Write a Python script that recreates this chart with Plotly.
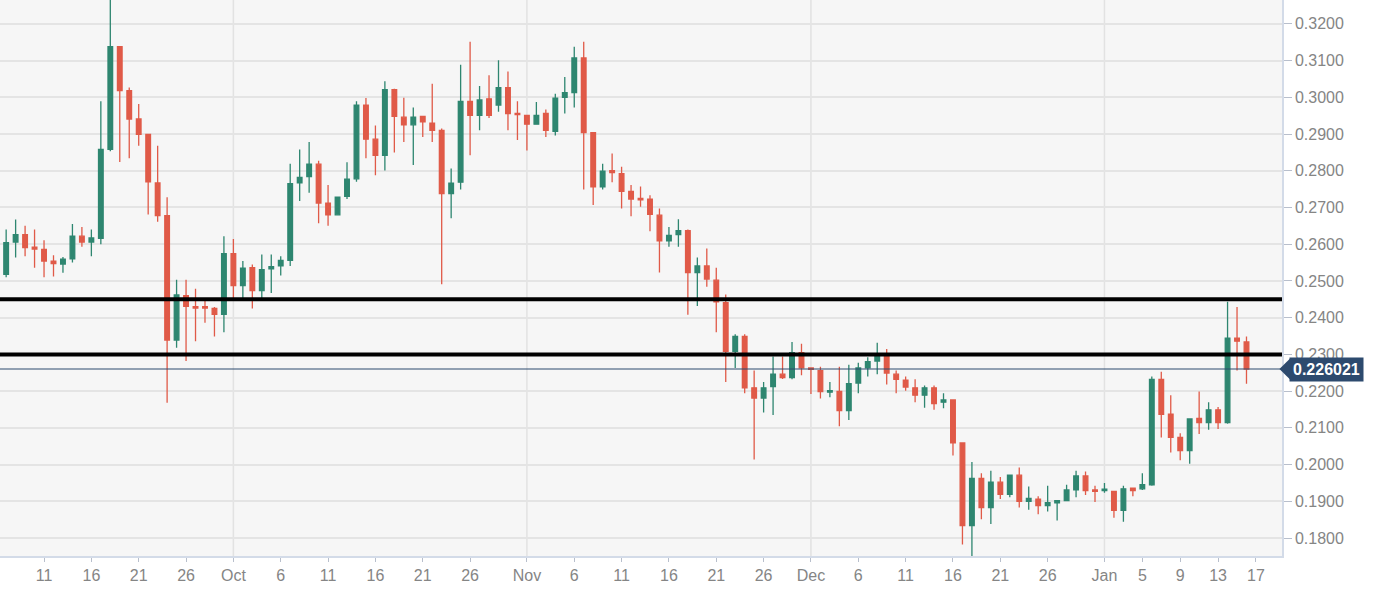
import pandas as pd
import plotly.graph_objects as go

# daily candles, 2019-09-06 .. 2020-01-16
dates = pd.date_range('2019-09-06', '2020-01-16', freq='D')

opens = [
    # Sep
    0.2567, 0.2518, 0.2606, 0.2626, 0.2592, 0.2586, 0.2554, 0.2546, 0.2560, 0.2622,
    0.2606, 0.2616, 0.2858, 0.3138, 0.3018, 0.2941, 0.2899, 0.2767, 0.2678, 0.2339,
    0.2460, 0.2430, 0.2430, 0.2425, 0.2409,
    # Oct
    0.2574, 0.2487, 0.2536, 0.2474, 0.2533, 0.2541, 0.2556, 0.2767, 0.2784, 0.2818,
    0.2712, 0.2680, 0.2730, 0.2778, 0.2979, 0.2886, 0.2842, 0.3021, 0.2946, 0.2925,
    0.2948, 0.2930, 0.2910, 0.2738, 0.2769, 0.2989, 0.2951, 0.2996, 0.2979, 0.3026,
    0.2956,
    # Nov
    0.2951, 0.2927, 0.2956, 0.2907, 0.3000, 0.3013, 0.3107, 0.2904, 0.2756, 0.2800,
    0.2792, 0.2744, 0.2725, 0.2723, 0.2679, 0.2609, 0.2626, 0.2637, 0.2523, 0.2541,
    0.2502, 0.2441, 0.2308, 0.2349, 0.2209, 0.2181, 0.2212, 0.2246, 0.2237, 0.2305,
    # Dec
    0.2263, 0.2256, 0.2197, 0.2199, 0.2147, 0.2222, 0.2263, 0.2282, 0.2294, 0.2246,
    0.2230, 0.2209, 0.2189, 0.2209, 0.2170, 0.2176, 0.2059, 0.1834, 0.1962, 0.1883,
    0.1952, 0.1919, 0.1971, 0.1900, 0.1906, 0.1888, 0.1896, 0.1902, 0.1931, 0.1969,
    0.1931,
    # Jan
    0.1929, 0.1927, 0.1875, 0.1936, 0.1934, 0.1945, 0.2232, 0.2137, 0.2074, 0.2038,
    0.2126, 0.2114, 0.2149, 0.2114, 0.2344, 0.2334,
]

highs = [
    0.2580, 0.2640, 0.2667, 0.2650, 0.2640, 0.2611, 0.2570, 0.2565, 0.2655, 0.2647,
    0.2640, 0.2989, 0.3280, 0.3140, 0.3027, 0.2982, 0.2900, 0.2868, 0.2728, 0.2503,
    0.2503, 0.2479, 0.2448, 0.2429, 0.2622,
    0.2614, 0.2554, 0.2545, 0.2572, 0.2572, 0.2567, 0.2819, 0.2858, 0.2878, 0.2827,
    0.2761, 0.2730, 0.2823, 0.2989, 0.2998, 0.2923, 0.3044, 0.3023, 0.2999, 0.2972,
    0.2950, 0.3037, 0.2915, 0.2806, 0.3089, 0.3151, 0.3031, 0.3060, 0.3101, 0.3070,
    0.2989,
    0.2951, 0.2987, 0.2967, 0.3010, 0.3055, 0.3138, 0.3151, 0.2905, 0.2819, 0.2847,
    0.2811, 0.2761, 0.2757, 0.2733, 0.2697, 0.2647, 0.2668, 0.2640, 0.2564, 0.2588,
    0.2536, 0.2463, 0.2355, 0.2355, 0.2256, 0.2225, 0.2294, 0.2294, 0.2334, 0.2329,
    0.2264, 0.2266, 0.2225, 0.2266, 0.2272, 0.2277, 0.2292, 0.2332, 0.2315, 0.2256,
    0.2240, 0.2232, 0.2215, 0.2215, 0.2194, 0.2177, 0.2060, 0.2007, 0.1976, 0.1983,
    0.1966, 0.1971, 0.1992, 0.1940, 0.1914, 0.1942, 0.1902, 0.1945, 0.1983, 0.1981,
    0.1942,
    0.1950, 0.1928, 0.1942, 0.1937, 0.1976, 0.2240, 0.2253, 0.2189, 0.2085, 0.2124,
    0.2199, 0.2170, 0.2157, 0.2443, 0.2429, 0.2349,
]

lows = [
    0.2510, 0.2510, 0.2564, 0.2567, 0.2536, 0.2510, 0.2512, 0.2522, 0.2550, 0.2593,
    0.2567, 0.2600, 0.2853, 0.2824, 0.2834, 0.2868, 0.2681, 0.2661, 0.2168, 0.2318,
    0.2282, 0.2336, 0.2386, 0.2349, 0.2360,
    0.2448, 0.2448, 0.2425, 0.2448, 0.2467, 0.2515, 0.2541, 0.2718, 0.2740, 0.2657,
    0.2650, 0.2678, 0.2723, 0.2770, 0.2834, 0.2788, 0.2801, 0.2850, 0.2878, 0.2816,
    0.2892, 0.2878, 0.2491, 0.2671, 0.2749, 0.2842, 0.2910, 0.2944, 0.2961, 0.2910,
    0.2884,
    0.2855, 0.2925, 0.2892, 0.2896, 0.2956, 0.2972, 0.2749, 0.2707, 0.2749, 0.2769,
    0.2697, 0.2676, 0.2702, 0.2635, 0.2523, 0.2593, 0.2593, 0.2408, 0.2432, 0.2484,
    0.2360, 0.2225, 0.2263, 0.2194, 0.2014, 0.2142, 0.2135, 0.2233, 0.2232, 0.2243,
    0.2192, 0.2180, 0.2183, 0.2104, 0.2121, 0.2194, 0.2240, 0.2246, 0.2218, 0.2194,
    0.2201, 0.2170, 0.2155, 0.2149, 0.2153, 0.2025, 0.1782, 0.1745, 0.1851, 0.1838,
    0.1906, 0.1911, 0.1883, 0.1877, 0.1865, 0.1872, 0.1848, 0.1900, 0.1911, 0.1917,
    0.1898,
    0.1923, 0.1855, 0.1844, 0.1914, 0.1931, 0.1942, 0.2074, 0.2033, 0.2012, 0.2002,
    0.2083, 0.2095, 0.2097, 0.2111, 0.2256, 0.2220,
]

closes = [
    0.2521, 0.2604, 0.2626, 0.2591, 0.2587, 0.2554, 0.2547, 0.2559, 0.2622, 0.2606,
    0.2617, 0.2858, 0.3138, 0.3018, 0.2941, 0.2899, 0.2770, 0.2678, 0.2339, 0.2462,
    0.2431, 0.2426, 0.2426, 0.2409, 0.2574,
    0.2487, 0.2535, 0.2474, 0.2531, 0.2539, 0.2556, 0.2765, 0.2782, 0.2818, 0.2712,
    0.2680, 0.2728, 0.2777, 0.2979, 0.2886, 0.2842, 0.3021, 0.2948, 0.2925, 0.2946,
    0.2933, 0.2910, 0.2738, 0.2766, 0.2989, 0.2951, 0.2993, 0.2951, 0.3026, 0.2956,
    0.2953,
    0.2927, 0.2951, 0.2910, 0.2998, 0.3013, 0.3107, 0.2904, 0.2756, 0.2799, 0.2795,
    0.2744, 0.2723, 0.2721, 0.2681, 0.2609, 0.2624, 0.2637, 0.2523, 0.2541, 0.2505,
    0.2443, 0.2308, 0.2349, 0.2209, 0.2181, 0.2209, 0.2246, 0.2237, 0.2305, 0.2263,
    0.2259, 0.2199, 0.2201, 0.2147, 0.2220, 0.2263, 0.2280, 0.2300, 0.2249, 0.2232,
    0.2211, 0.2189, 0.2209, 0.2166, 0.2176, 0.2059, 0.1834, 0.1962, 0.1883, 0.1952,
    0.1919, 0.1971, 0.1900, 0.1908, 0.1888, 0.1896, 0.1902, 0.1931, 0.1969, 0.1929,
    0.1927,
    0.1933, 0.1875, 0.1934, 0.1929, 0.1945, 0.2232, 0.2137, 0.2074, 0.2038, 0.2124,
    0.2114, 0.2149, 0.2114, 0.2344, 0.2336, 0.226021,
]

# support / resistance levels drawn by hand on the chart
levels = [0.2450, 0.2300]
last_price = closes[-1]

tick_dates = ['2019-09-06', '2019-09-11', '2019-09-16', '2019-09-21', '2019-09-26',
              '2019-10-01', '2019-10-06', '2019-10-11', '2019-10-16', '2019-10-21', '2019-10-26',
              '2019-11-01', '2019-11-06', '2019-11-11', '2019-11-16', '2019-11-21', '2019-11-26',
              '2019-12-01', '2019-12-06', '2019-12-11', '2019-12-16', '2019-12-21', '2019-12-26',
              '2020-01-01', '2020-01-05', '2020-01-09', '2020-01-13', '2020-01-17']
tick_text = ['6', '11', '16', '21', '26',
             'Oct', '6', '11', '16', '21', '26',
             'Nov', '6', '11', '16', '21', '26',
             'Dec', '6', '11', '16', '21', '26',
             'Jan', '5', '9', '13', '17']
month_starts = ['2019-10-01', '2019-11-01', '2019-12-01', '2020-01-01']

GREEN = '#2e8670'
RED = '#e05a48'
TAG = '#2d4a6e'

fig = go.Figure(go.Candlestick(
    x = dates,
    open = opens,
    high = highs,
    low = lows,
    close = closes,
    increasing = dict(line = dict(color = GREEN, width = 1.3), fillcolor = GREEN),
    decreasing = dict(line = dict(color = RED, width = 1.3), fillcolor = RED),
    whiskerwidth = 0,
    showlegend = False
))

for d in month_starts:
    fig.add_vline(x = d, line = dict(color = '#e2e2e2', width = 1.5), layer = 'below')

for lv in levels:
    fig.add_hline(y = lv, line = dict(color = 'black', width = 4))

fig.add_hline(y = last_price, line = dict(color = TAG, width = 1))

# price tag on the right axis
fig.add_shape(
    type = 'path', xref = 'paper', yref = 'y', layer = 'above',
    path = 'M 0.998,{0} L 1.0065,{1} L 1.0065,{2} Z'.format(
        last_price, last_price + 0.0029, last_price - 0.0029),
    fillcolor = TAG, line = dict(width = 0)
)
fig.add_annotation(
    x = 1, xref = 'paper', y = last_price, yref = 'y',
    xanchor = 'left', xshift = 7,
    text = '<b>{:.6f}</b>'.format(last_price),
    showarrow = False,
    font = dict(color = 'white', size = 16, family = 'Liberation Sans, Arial'),
    bgcolor = TAG, borderpad = 3
)

fig.update_layout(
    width = 1393,
    height = 596,
    margin = dict(l = 0, r = 111, t = 0, b = 40),
    plot_bgcolor = '#f6f6f6',
    paper_bgcolor = 'white',
    font = dict(family = 'Liberation Sans, Arial', color = '#858585', size = 16),
    hovermode = 'x'
)

fig.update_xaxes(
    type = 'date',
    range = ['2019-09-06 08:24', '2020-01-19 18:00'],
    rangeslider_visible = False,
    tickvals = tick_dates,
    ticktext = tick_text,
    showgrid = False,
    ticks = 'outside', ticklen = 4, tickcolor = '#b8bfcc',
    showline = True, linecolor = '#d3dbe8', linewidth = 1.5,
    tickfont = dict(size = 16, color = '#858585'),
    zeroline = False
)

fig.update_yaxes(
    side = 'right',
    range = [0.1751, 0.3265],
    dtick = 0.01,
    tick0 = 0.18,
    tickformat = '.4f',
    showgrid = True, gridcolor = '#e4e4e4', gridwidth = 1.5,
    ticks = 'outside', ticklen = 8, tickcolor = '#b8bfcc',
    showline = True, linecolor = '#d3dbe8', linewidth = 1.5,
    tickfont = dict(size = 16, color = '#858585'),
    zeroline = False
)

# the page's default body margin would shift the figure by 8px
fig.write_html("out.html", config = {'displayModeBar': False},
               post_script = "document.body.style.margin = '0';")
